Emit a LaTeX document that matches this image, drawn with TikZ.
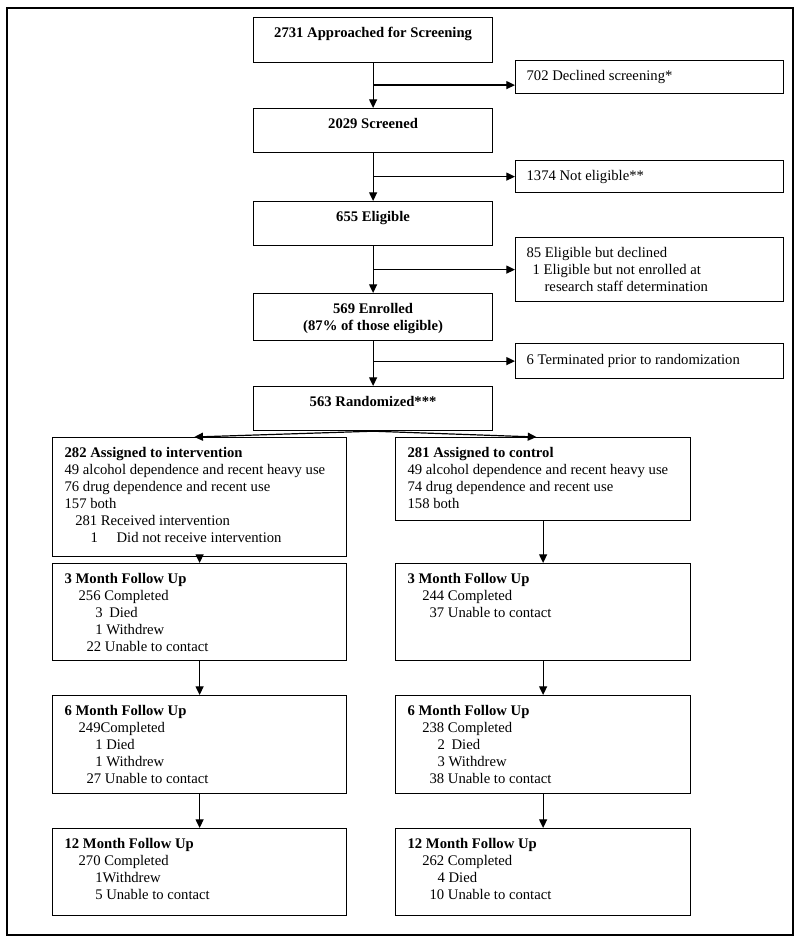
\documentclass[tikz,border=0pt]{standalone}
\usepackage{fontspec}
\setmainfont{Liberation Serif}
\usetikzlibrary{arrows.meta,calc,positioning}

\newlength{\pxu}\setlength{\pxu}{0.75pt}
\newcommand{\topcell}[3]{\parbox[c][#2\pxu][t]{#1\pxu}{\vspace*{7.5pt}\leftskip=9pt\relax #3}}
\newcommand{\midcell}[3]{\parbox[c][#2\pxu][c]{#1\pxu}{\leftskip=8.25pt\relax #3}}

\begin{document}
\begin{tikzpicture}[x=0.75pt,y=-0.75pt,
  box/.style={draw,line width=0.9pt,inner sep=0pt,anchor=north west,font=\fontsize{11}{12.75}\selectfont},
  arr/.style={line width=0.9pt,-{Triangle[length=6.5pt,width=6pt]}}]

\useasboundingbox (0,0) rectangle (800,942);
\draw[line width=2.2pt] (7,8) rectangle (793,935);

\node[box](appr) at (253,17) {\topcell{239}{45}{\centering\textbf{2731 Approached for Screening}}};
\node[box](decl) at (515,60) {\midcell{268}{33}{702 Declined screening*}};
\node[box](scr) at (253,108) {\topcell{239}{44}{\centering\textbf{2029 Screened}}};
\node[box](inel) at (515,160) {\midcell{268}{32}{1374 Not eligible**}};
\node[box](elig) at (253,201) {\topcell{239}{44}{\centering\textbf{655 Eligible}}};
\node[box](refu) at (515,237) {\midcell{268}{64}{85 Eligible but declined\\
  \hspace*{4.5pt}1 Eligible but not enrolled at\\
  \hspace*{13.5pt}research staff determination}};
\node[box](enr) at (253,293) {\topcell{239}{47}{\centering\textbf{569 Enrolled}\\\textbf{(87\% of those eligible)}}};
\node[box](term) at (515,343) {\midcell{268}{35}{6 Terminated prior to randomization}};
\node[box](rand) at (253,386) {\topcell{239}{44}{\centering\textbf{563 Randomized***}}};

\node[box](interv) at (52,437) {\topcell{294}{119}{\textbf{282 Assigned to intervention}\\
  49 alcohol dependence and recent heavy use\\
  76 drug dependence and recent use\\
  157 both\\
  \hspace*{8pt}281 Received intervention\\
  \hspace*{19.5pt}1\hspace{14pt}Did not receive intervention}};
\node[box](ctrl) at (395,437) {\topcell{295}{83}{\textbf{281 Assigned to control}\\
  49 alcohol dependence and recent heavy use\\
  74 drug dependence and recent use\\
  158 both}};

\node[box](ithree) at (52,563) {\topcell{294}{97}{\textbf{3 Month Follow Up}\\
  \hspace*{10.5pt}256 Completed\\
  \hspace*{23pt}3\hspace{5pt}Died\\
  \hspace*{23pt}1 Withdrew\\
  \hspace*{16.5pt}22 Unable to contact}};
\node[box](cthree) at (395,563) {\topcell{295}{97}{\textbf{3 Month Follow Up}\\
  \hspace*{11pt}244 Completed\\
  \hspace*{16.5pt}37 Unable to contact}};

\node[box](isix) at (52,695) {\topcell{294}{98}{\textbf{6 Month Follow Up}\\
  \hspace*{10.5pt}249Completed\\
  \hspace*{23pt}1 Died\\
  \hspace*{23pt}1 Withdrew\\
  \hspace*{16.5pt}27 Unable to contact}};
\node[box](csix) at (395,695) {\topcell{295}{98}{\textbf{6 Month Follow Up}\\
  \hspace*{11pt}238 Completed\\
  \hspace*{22.5pt}2\hspace{5pt}Died\\
  \hspace*{22.5pt}3 Withdrew\\
  \hspace*{16.5pt}38 Unable to contact}};

\node[box](itwelve) at (52,828) {\topcell{294}{87}{\textbf{12 Month Follow Up}\\
  \hspace*{10.5pt}270 Completed\\
  \hspace*{23pt}1Withdrew\\
  \hspace*{23pt}5 Unable to contact}};
\node[box](ctwelve) at (395,828) {\topcell{295}{87}{\textbf{12 Month Follow Up}\\
  \hspace*{11pt}262 Completed\\
  \hspace*{22.5pt}4 Died\\
  \hspace*{16.5pt}10 Unable to contact}};

\path[arr]
(appr.south) edge (scr.north)
($(appr.south |- decl.west)+(0,8)$) edge ($(decl.west)+(0,8)$)
(scr.south) edge (elig.north)
(scr.south |- inel.west) edge (inel.west)
(elig.south) edge (enr.north)
(elig.south |- refu.west) edge (refu.west)
(enr.south) edge (rand.north)
(enr.south |- term.west) edge (term.west)
(rand.south) edge ([xshift=-4pt]interv.north)
(rand.south) edge ([xshift=-5pt]ctrl.north)
(interv.south) edge (ithree.north)
(ctrl.south) edge (cthree.north)
(ithree.south) edge (isix.north)
(cthree.south) edge (csix.north)
(isix.south) edge (itwelve.north)
(csix.south) edge (ctwelve.north);
\end{tikzpicture}
\end{document}
